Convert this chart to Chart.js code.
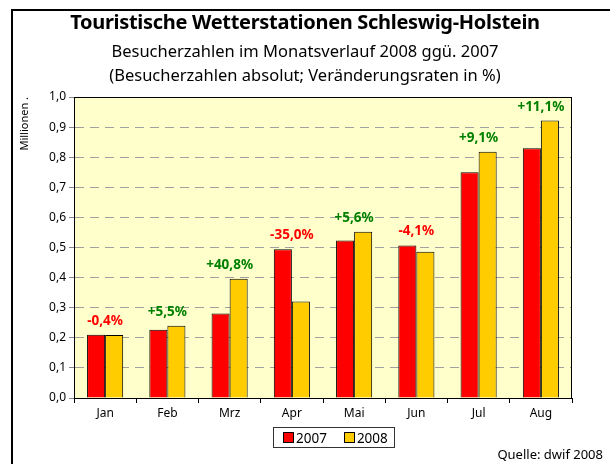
<!DOCTYPE html>
<html lang="de">
<head>
<meta charset="UTF-8">
<title>Touristische Wetterstationen Schleswig-Holstein</title>
<script src="https://cdn.jsdelivr.net/npm/chart.js"></script>
<style>
    body { margin: 0; padding: 0; background: #fff; font-family: 'Noto Sans', sans-serif; }
    #wrap { position: relative; width: 610px; height: 464px; overflow: hidden; }
    #frame { position: absolute; left: 11px; top: 9px; width: 640px; height: 500px;
             border-left: 2px solid #000; border-top: 2px solid #000; }
    canvas { position: absolute; left: 0; top: 0; }
    .t { position: absolute; left: 0; width: 610px; text-align: center; color: #000; }
    #title { top: 8px; font-size: 20px; font-weight: bold; letter-spacing: -0.3px; }
    #sub1 { top: 39px; font-size: 16.5px; }
    #sub2 { top: 63px; font-size: 16.5px; }
    #legend { position: absolute; left: 273px; top: 427px; width: 120px; height: 19px;
              border: 1px solid #333; font-size: 13.5px; display: flex; align-items: center; }
    #legend span.item { display: flex; align-items: center; margin-left: 9px; margin-right: 8px; }
    #legend i { display: inline-block; width: 9px; height: 9px; border: 1px solid #000; margin-right: 2px; }
    #source { position: absolute; right: 7px; top: 445px; font-size: 13px; }
</style>
</head>
<body>
<div id="wrap">
    <div id="frame"></div>
    <canvas id="chart" width="610" height="464"></canvas>
    <div class="t" id="title">Touristische Wetterstationen Schleswig-Holstein</div>
    <div class="t" id="sub1">Besucherzahlen im Monatsverlauf 2008 ggü. 2007</div>
    <div class="t" id="sub2">(Besucherzahlen absolut; Veränderungsraten in %)</div>
    <div id="legend"></div>
    <div id="source">Quelle: dwif 2008</div>
</div>
<script>
    const months = ['Jan', 'Feb', 'Mrz', 'Apr', 'Mai', 'Jun', 'Jul', 'Aug'];
    const visitors2007 = [0.210, 0.227, 0.281, 0.494, 0.523, 0.507, 0.750, 0.830];
    const visitors2008 = [0.209, 0.240, 0.396, 0.321, 0.552, 0.486, 0.818, 0.922];
    const changes = ['-0,4%', '+5,5%', '+40,8%', '-35,0%', '+5,6%', '-4,1%', '+9,1%', '+11,1%'];

    const bgPlugin = {
        id: 'plotBg',
        beforeDraw(chart) {
            const a = chart.chartArea, c = chart.ctx;
            c.save();
            c.fillStyle = '#FFFFCC';
            c.fillRect(a.left, a.top, a.right - a.left, a.bottom - a.top);
            c.restore();
        },
        afterDraw(chart) {
            const a = chart.chartArea, c = chart.ctx;
            c.save();
            c.strokeStyle = '#000';
            c.lineWidth = 1;
            c.strokeRect(a.left + 0.5, a.top + 0.5, a.right - a.left - 1, a.bottom - a.top);
            c.restore();
        }
    };

    const labelPlugin = {
        id: 'changeLabels',
        afterDatasetsDraw(chart) {
            const c = chart.ctx;
            const x = chart.scales.x, y = chart.scales.y;
            c.save();
            c.font = 'bold 13.5px "Noto Sans", sans-serif';
            c.textAlign = 'center';
            c.textBaseline = 'bottom';
            changes.forEach((txt, i) => {
                const top = Math.max(visitors2007[i], visitors2008[i]);
                c.fillStyle = txt.startsWith('-') ? '#FF0000' : '#008000';
                c.fillText(txt, x.getPixelForValue(i), y.getPixelForValue(top) - 7);
            });
            c.restore();
        }
    };

    const chart = new Chart(document.getElementById('chart'), {
        type: 'bar',
        data: {
            labels: months,
            datasets: [
                { label: '2007', data: visitors2007, backgroundColor: '#FF0000' },
                { label: '2008', data: visitors2008, backgroundColor: '#FFCC00' }
            ]
        },
        options: {
            responsive: false,
            animation: false,
            layout: { padding: { left: 14, top: 97, right: 38, bottom: 36 } },
            datasets: {
                bar: {
                    borderColor: '#000', borderWidth: 1, borderSkipped: 'bottom',
                    categoryPercentage: 0.58, barPercentage: 1.0
                }
            },
            plugins: { legend: { display: false }, tooltip: { enabled: false } },
            scales: {
                x: {
                    afterFit: s => { s.height = 30; },
                    grid: { offset: true, drawOnChartArea: false, tickLength: 5, tickColor: '#000' },
                    border: { color: '#000' },
                    ticks: { color: '#000', font: { family: 'Noto Sans', size: 12 }, padding: 3 }
                },
                y: {
                    min: 0, max: 1,
                    afterFit: s => { s.width = 60; },
                    grid: {
                        color: ctx => (ctx.tick.value > 0 && ctx.tick.value < 1) ? '#A0A0A0' : 'rgba(0,0,0,0)',
                        tickColor: '#888', tickLength: 5, tickBorderDash: []
                    },
                    border: { color: '#000', dash: [9, 6] },
                    ticks: {
                        stepSize: 0.1, color: '#000', font: { family: 'Noto Sans', size: 12 }, padding: 3,
                        callback: v => v.toFixed(1).replace('.', ',')
                    },
                    title: {
                        display: true, text: 'Millionen .', color: '#000',
                        font: { family: 'Noto Sans', size: 11 }, padding: { bottom: 8 }, align: 'end'
                    }
                }
            }
        },
        plugins: [bgPlugin, labelPlugin]
    });

    const legend = document.getElementById('legend');
    chart.data.datasets.forEach(ds => {
        const item = document.createElement('span');
        item.className = 'item';
        item.innerHTML = '<i style="background:' + ds.backgroundColor + '"></i>' + ds.label;
        legend.appendChild(item);
    });
</script>
</body>
</html>
